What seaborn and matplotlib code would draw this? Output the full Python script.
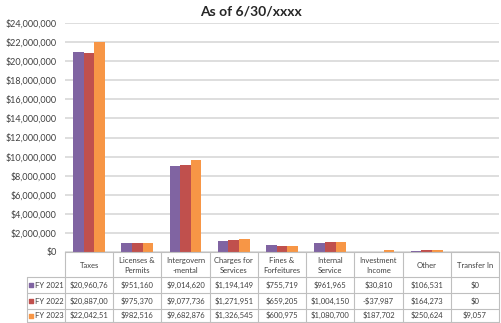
import numpy as np
import pandas as pd
import seaborn as sns
import matplotlib.pyplot as plt
from matplotlib.ticker import FuncFormatter, MultipleLocator
from matplotlib.transforms import blended_transform_factory

categories = ["Taxes", "Licenses &\nPermits", "Intergovern\n-mental", "Charges for\nServices",
              "Fines &\nForfeitures", "Internal\nService", "Investment\nIncome", "Other", "Transfer In"]
years = ["FY 2021", "FY 2022", "FY 2023"]
fy2021 = [20960760, 951160, 9014620, 1194149, 755719, 961965, 30810, 106531, 0]
fy2022 = [20887000, 975370, 9077736, 1271951, 659205, 1004150, -37987, 164273, 0]
fy2023 = [22042510, 982516, 9682876, 1326545, 600975, 1080700, 187702, 250624, 9057]
colors = ["#8064A2", "#C0504D", "#F79646"]

series = [fy2021, fy2022, fy2023]
df = pd.DataFrame({
    "category": categories * 3,
    "year": np.repeat(years, len(categories)),
    "value": fy2021 + fy2022 + fy2023,
})

sns.set_style("white")
plt.rcParams["font.family"] = ["Lato", "DejaVu Sans"]

W, H = 502, 323
fig = plt.figure(figsize=(W / 100, H / 100), dpi=100)
# plot area in pixels
left, right, top, bottom = 65, 499, 23, 252
ax = fig.add_axes([left / W, 1 - bottom / H, (right - left) / W, (bottom - top) / H])

sns.barplot(data=df, x="category", y="value", hue="year", palette=colors, width=0.66,
            saturation=1, ax=ax, legend=False, edgecolor="none")

ax.set_xlim(-0.5, len(categories) - 0.5)
ax.set_ylim(0, 24000000)
ax.yaxis.set_major_locator(MultipleLocator(2000000))
ax.yaxis.set_major_formatter(FuncFormatter(lambda v, p: "${:,.0f}".format(v)))
ax.grid(axis="y", color="#D4D4D4", linewidth=1.1)
ax.set_axisbelow(True)
ax.tick_params(axis="y", length=0, labelsize=6.5, labelcolor="#404040", pad=6)
ax.set_xticks([])
ax.set_xlabel("")
ax.set_ylabel("")
for s in ["left", "right", "top"]:
    ax.spines[s].set_visible(False)
ax.spines["bottom"].set_color("#BFBFBF")

fig.text(0.5, 1 - 12 / H, "As of 6/30/xxxx", ha="center", va="center",
         fontsize=10, fontweight="bold", color="#262626")

# data table under the axis
tr = blended_transform_factory(ax.transData, fig.transFigure)
def fy(py):
    return 1 - py / H

line_kw = dict(color="#BFBFBF", linewidth=0.8, clip_on=False)
rows = [252, 277, 293, 309, 322]
x_end = len(categories) - 0.5
key_left = ax.transData.inverted().transform((27, 0))[0]

for i in range(len(categories) + 1):
    x = i - 0.5
    ax.plot([x, x], [fy(rows[0]), fy(rows[-1])], transform=tr, **line_kw)
ax.plot([key_left, key_left], [fy(rows[1]), fy(rows[-1])], transform=tr, **line_kw)
for py in rows[1:]:
    ax.plot([key_left, x_end], [fy(py), fy(py)], transform=tr, **line_kw)

for i, cat in enumerate(categories):
    ax.text(i, fy((rows[0] + rows[1]) / 2 + 1), cat, transform=tr, ha="center", va="center",
            fontsize=5.5, color="#404040", linespacing=1.5)

for r, (yr, vals, c) in enumerate(zip(years, series, colors)):
    yc = fy((rows[r + 1] + rows[r + 2]) / 2)
    kx = ax.transData.inverted().transform((31, 0))[0]
    ax.scatter([kx], [yc], transform=tr, marker="s", s=9, color=c, clip_on=False)
    ax.text(ax.transData.inverted().transform((35, 0))[0], yc, yr, transform=tr,
            ha="left", va="center", fontsize=5.5, color="#404040")
    for i, v in enumerate(vals):
        label = ("-$" if v < 0 else "$") + "{:,}".format(abs(v))
        ax.text(i, yc, label[:10], transform=tr, ha="center", va="center",
                fontsize=5.5, color="#404040")

fig.savefig("out.png", dpi=100)
